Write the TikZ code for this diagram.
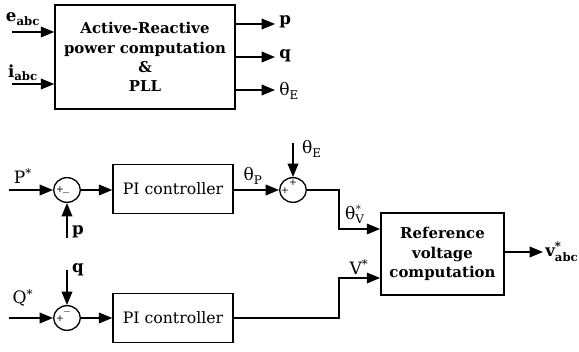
\documentclass[tikz,border=0pt]{standalone}
\usepackage{amsmath}
\usepackage{fontspec}
\setmainfont{DejaVu Serif}
\usetikzlibrary{arrows.meta}
\usetikzlibrary{calc}
\usetikzlibrary{shapes.geometric}
\tikzset{
	>={Triangle[length=10pt, width=8pt]},
	wire/.style={black, line width=1pt},
	block/.style={draw, line width=1.1pt, align=center, inner sep=0pt},
	bigblock/.style={block, minimum width=135pt, minimum height=78pt, font=\fontsize{11.2pt}{14.4pt}\selectfont\bfseries},
	piblock/.style={block, minimum width=90pt, minimum height=37pt, font=\fontsize{11.8pt}{14pt}\selectfont},
	refblock/.style={block, minimum width=92.5pt, minimum height=61.5pt, font=\fontsize{11.2pt}{14.6pt}\selectfont\bfseries},
	sumnode/.style={draw, ellipse, line width=1pt, minimum width=20pt, minimum height=18.5pt, inner sep=0pt},
	sign/.style={font=\fontsize{7pt}{7pt}\selectfont, inner sep=0pt},
	siglabel/.style={font=\fontsize{12.8pt}{13pt}\selectfont, inner sep=0pt},
	boldlabel/.style={siglabel, font=\fontsize{12.5pt}{13pt}\selectfont\bfseries}
}

\begin{document}
\begin{tikzpicture}[x=0.75pt, y=-0.75pt]
	\useasboundingbox (0,0) rectangle (579,352);
	
	% Power computation and PLL
	\node[bigblock] (pq) at (145,57) {Active-Reactive\\power computation\\\&\\PLL};
	\coordinate (eIn) at (12,32);
	\coordinate (iIn) at (12,84);
	\draw[wire, ->] (eIn) -- (eIn -| pq.west);
	\draw[wire, ->] (iIn) -- (iIn -| pq.west);
	\node[boldlabel] (eLab) at (23,19) {$\textbf{e}_{\textbf{abc}}$};
	\node[boldlabel] (iLab) at (23,73) {$\textbf{i}_{\textbf{abc}}$};
	
	\coordinate (pOut) at (275,24);
	\coordinate (qOut) at (275,57);
	\coordinate (tOut) at (275,90);
	\draw[wire, ->] (pOut -| pq.east) -- (pOut);
	\draw[wire, ->] (qOut -| pq.east) -- (qOut);
	\draw[wire, ->] (tOut -| pq.east) -- (tOut);
	\node[boldlabel, anchor=west] (pLab) at (279,22) {p};
	\node[boldlabel, anchor=west] (qLab) at (279,56) {q};
	\node[siglabel, anchor=west] (tLab) at (279,91) {θ\textsubscript{E}};
	
	% Active power loop
	\node[sumnode] (sumP) at (67,190) {};
	\node[sign] at ($(sumP)+(-7,0)$) {+};
	\node[sign] at ($(sumP)+(-1,3)$) {$-$};
	\node[piblock] (piP) at (173,189) {PI controller};
	\node[sumnode] (sumT) at (293,190) {};
	\node[sign] at ($(sumT)+(-8,1)$) {+};
	\node[sign] at ($(sumT)+(0,-7)$) {+};
	
	\coordinate (pRef) at (9,190);
	\coordinate (pMeas) at (67,238);
	\coordinate (tGrid) at (293,143);
	\draw[wire, ->] (pRef) -- (sumP.west);
	\draw[wire, ->] (pMeas) -- (sumP.south);
	\draw[wire, ->] (sumP.east) -- (piP.west |- sumP.east);
	\draw[wire, ->] (piP.east |- sumT.west) -- (sumT.west);
	\draw[wire, ->] (tGrid) -- (sumT.north);
	\node[siglabel] (PLab) at (23,176) {P\textsuperscript{*}};
	\node[boldlabel] (pmLab) at (78,232) {p};
	\node[siglabel] (tpLab) at (253,176) {θ\textsubscript{P}};
	\node[siglabel] (teLab) at (312,149) {θ\textsubscript{E}};
	
	% Reactive power loop
	\node[sumnode] (sumQ) at (67,318) {};
	\node[sign] at ($(sumQ)+(-7,1)$) {+};
	\node[sign] at ($(sumQ)+(0,-6)$) {$-$};
	\node[piblock] (piQ) at (173,318) {PI controller};
	
	\coordinate (qRef) at (9,318);
	\coordinate (qMeas) at (67,270);
	\draw[wire, ->] (qRef) -- (sumQ.west);
	\draw[wire, ->] (qMeas) -- (sumQ.north);
	\draw[wire, ->] (sumQ.east) -- (piQ.west |- sumQ.east);
	\node[siglabel] (QLab) at (23,298) {Q\textsuperscript{*}};
	\node[boldlabel] (qmLab) at (78,270) {q};
	
	% Reference voltage
	\node[refblock] (ref) at (442.5,254) {Reference\\voltage\\computation};
	\coordinate (kTheta) at (339,229);
	\coordinate (kVolt) at (339,278);
	\coordinate (vOut) at (543,252);
	\draw[wire, ->] (sumT.east) -| (kTheta) -- (kTheta -| ref.west);
	\draw[wire, ->] (piQ.east) -| (kVolt) -- (kVolt -| ref.west);
	\draw[wire, ->] (vOut -| ref.east) -- (vOut);
	\node[siglabel] (tvLab) at (355,214) {$\text{θ}^{*}_{\text{V}}$};
	\node[siglabel] (vLab) at (359,267) {V\textsuperscript{*}};
	\node[boldlabel, anchor=west] (voLab) at (545,252) {$\textbf{v}^{\textbf{*}}_{\textbf{abc}}$};
	
\end{tikzpicture}
\end{document}
